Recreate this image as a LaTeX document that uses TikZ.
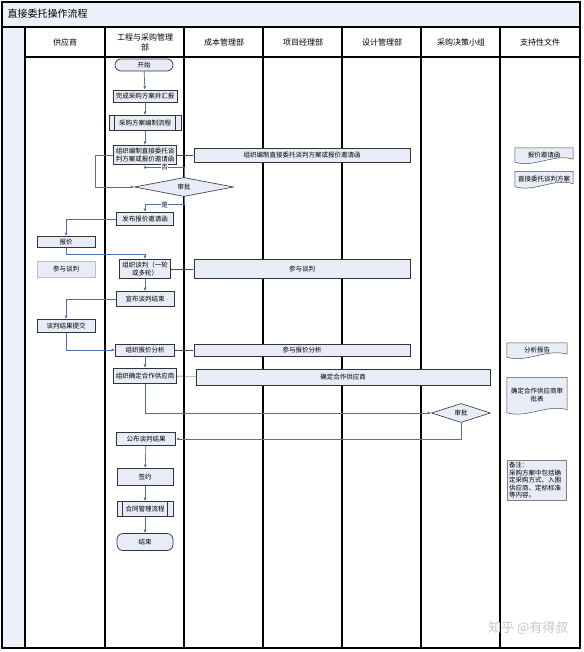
\documentclass[tikz,border=0pt]{standalone}
\usepackage{fontspec}
\setmainfont{Noto Sans CJK SC}
\usepackage{xcolor}
\usepackage{tikz}
\usetikzlibrary{shapes.geometric, arrows.meta, backgrounds, positioning}

\definecolor{boxfill}{RGB}{231,236,246}
\definecolor{headfill}{RGB}{236,240,248}
\definecolor{flowblue}{RGB}{80,114,168}

\tikzset{
	lane/.style={line width=1.1pt, draw=black},
	box/.style={draw=black!80, fill=boxfill, line width=0.7pt, inner sep=0.5pt, align=center, font=\fontsize{6.5}{8}\selectfont},
	term/.style={box, rounded corners=6pt},
	decide/.style={diamond, draw=black!80, fill=boxfill, line width=0.6pt, inner sep=0pt, font=\fontsize{6.5}{8}\selectfont},
	doc/.style={inner sep=1pt, align=center, font=\fontsize{6.5}{8}\selectfont},
	flow/.style={draw=flowblue, line width=0.7pt, -{Latex[length=3.5pt,width=3pt]}},
	linkdbl/.style={draw=black!70, line width=0.4pt, double=white, double distance=1.3pt, {Implies}-{Implies}},
	yn/.style={fill=white, inner sep=0.5pt, font=\fontsize{6.5}{8}\selectfont}
}

\begin{document}
\begin{tikzpicture}[x=1pt, y=-1pt]

	\useasboundingbox (0,0) rectangle (583,652);

	\fill[headfill] (2,2) rectangle (580,27);
	\fill[headfill] (2,27) rectangle (25,648);
	\draw[lane] (2,2) rectangle (580,648);
	\draw[lane] (2,27) -- (580,27) (25,57) -- (580,57);
	\foreach \x in {25,105,184,263,342,421,500}
		\draw[lane] (\x,27) -- (\x,648);

	\node[anchor=west, font=\fontsize{10}{12}\selectfont] (title) at (4,14) {直接委托操作流程};
	\node[font=\fontsize{8}{10}\selectfont] (hd1) at (65,42) {供应商};
	\node[font=\fontsize{8}{10}\selectfont, align=center] (hd2) at (145,42) {工程与采购管理\\部};
	\foreach \x/\t [count=\i from 3] in {224/成本管理部, 303/项目经理部, 382/设计管理部, 461/采购决策小组, 540/支持性文件}
		\node[font=\fontsize{8}{10}\selectfont] (hd\i) at (\x,42) {\t};

	\node[term, minimum width=58pt, minimum height=12pt] (ks) at (144,65) {开始};
	\node[box, minimum width=64pt, minimum height=12pt] (wc) at (145,96) {完成采购方案并汇报};
	\node[box, minimum width=72pt, minimum height=15pt] (bzlc) at (145,123) {采购方案编制流程};
	\node[box, line width=1pt, minimum width=63pt, minimum height=19pt] (zzbz) at (145,155) {组织编制直接委托谈\\判方案或报价邀请函};
	\node[box, minimum width=216pt, minimum height=14pt] (zzbzw) at (302,155) {组织编制直接委托谈判方案或报价邀请函};
	\node[decide, minimum width=99pt, minimum height=18pt] (sp1) at (184,187) {审批};
	\node[box, minimum width=57pt, minimum height=13pt] (fb) at (145,219) {发布报价邀请函};

	\node[box, minimum width=58pt, minimum height=11pt] (bj) at (66,242) {报价};
	\node[box, draw=black!25, minimum width=58pt, minimum height=16pt] (cytp) at (66,269) {参与谈判};
	\node[box, minimum width=51pt, minimum height=19pt] (zztp) at (145,269) {组织谈判（一轮\\或多轮）};
	\node[box, minimum width=216pt, minimum height=19pt] (cytpw) at (302,269) {参与谈判};
	\node[box, minimum width=58pt, minimum height=15pt] (xbjs) at (145,299) {宣布谈判结束};
	\node[box, minimum width=58pt, minimum height=13pt] (tpjg) at (66,326) {谈判结果提交};
	\node[box, minimum width=59pt, minimum height=12pt] (zzfx) at (145,350) {组织报价分析};
	\node[box, minimum width=216pt, minimum height=12pt] (cyfxw) at (302,350) {参与报价分析};
	\node[box, line width=1.1pt, minimum width=63pt, minimum height=15pt] (zzqd) at (145,376) {组织确定合作供应商};
	\node[box, minimum width=294pt, minimum height=16pt] (qdw) at (343,377) {确定合作供应商};
	\node[decide, minimum width=59pt, minimum height=19pt] (sp2) at (461,413) {审批};
	\node[box, minimum width=59pt, minimum height=13pt] (gbjg) at (146,439) {公布谈判结果};
	\node[box, minimum width=56pt, minimum height=17pt] (qy) at (145,477) {签约};
	\node[box, minimum width=56pt, minimum height=15pt] (htgl) at (145,509) {合同管理流程};
	\node[term, minimum width=56pt, minimum height=17pt] (js) at (145,542) {结束};

	\foreach \n in {bzlc,htgl}
		\draw[black!80, line width=0.7pt] ([xshift=6pt]\n.north west) -- ([xshift=6pt]\n.south west)
			([xshift=-6pt]\n.north east) -- ([xshift=-6pt]\n.south east);

	\node[doc, minimum width=58pt, minimum height=14pt] (yqh) at (544,155) {报价邀请函};
	\node[doc, minimum width=58pt, minimum height=15pt] (tpfa) at (544,179) {直接委托谈判方案};
	\node[doc, minimum width=60pt, minimum height=14pt] (fxbg) at (537,350) {分析报告};
	\node[doc, minimum width=60pt, minimum height=35pt] (spb) at (537,395) {确定合作供应商审\\批表};
	\node[draw=black!50, fill=boxfill, align=left, text width=55pt, inner sep=2pt, anchor=north west,
		font=\fontsize{6.5}{7.5}\selectfont] (bz) at (507,460) {备注：\\采购方案中包括确\\定采购方式、入围\\供应商、定标标准\\等内容。};

	\begin{scope}[on background layer]
	\foreach \d in {yqh,tpfa,fxbg,spb}
		\filldraw[draw=black!70, fill=boxfill, line width=0.5pt] (\d.south west) -- (\d.north west) -- (\d.north east)
			-- ([yshift=3pt]\d.south east) .. controls +(-20pt,6pt) and +(20pt,-6pt) .. (\d.south west);
	\end{scope}

	\path[flow]
		(ks) edge (wc)
		(wc) edge (bzlc)
		(bzlc) edge (zzbz)
		(zztp) edge (xbjs)
		(zzfx) edge (zzqd)
		(gbjg) edge (qy)
		(qy) edge (htgl)
		(htgl) edge (js);
	\draw[flow] (zzbz.west) -- ++(-18pt,0) |- (sp1.west);
	\draw[flow] (sp1.north) -- ++(0,10pt) -| node[yn, pos=0.25] {否} (zzbz.south);
	\draw[flow] (sp1.south) -- ++(0,-8pt) -| node[yn, pos=0.25] {是} (fb.north);
	\draw[flow] (fb.west) -| (bj.north);
	\draw[flow] (bj.south) -- ++(0,-6pt) -| (zztp.north);
	\draw[flow] (xbjs.west) -| (tpjg.north);
	\draw[flow] (tpjg.south) |- (zzfx.west);
	\draw[flow] (zzqd.south) |- (sp2.west);
	\draw[flow] (sp2.south) |- (gbjg.east);

	\path[linkdbl]
		(zzbz) edge (zzbzw)
		(zztp) edge (cytpw)
		(zzfx) edge (cyfxw)
		(zzqd) edge (qdw);

	\node[anchor=east, text=black!22, font=\fontsize{13}{15}\selectfont] (wm) at (572,628) {知乎 @有得叔};

\end{tikzpicture}
\end{document}
